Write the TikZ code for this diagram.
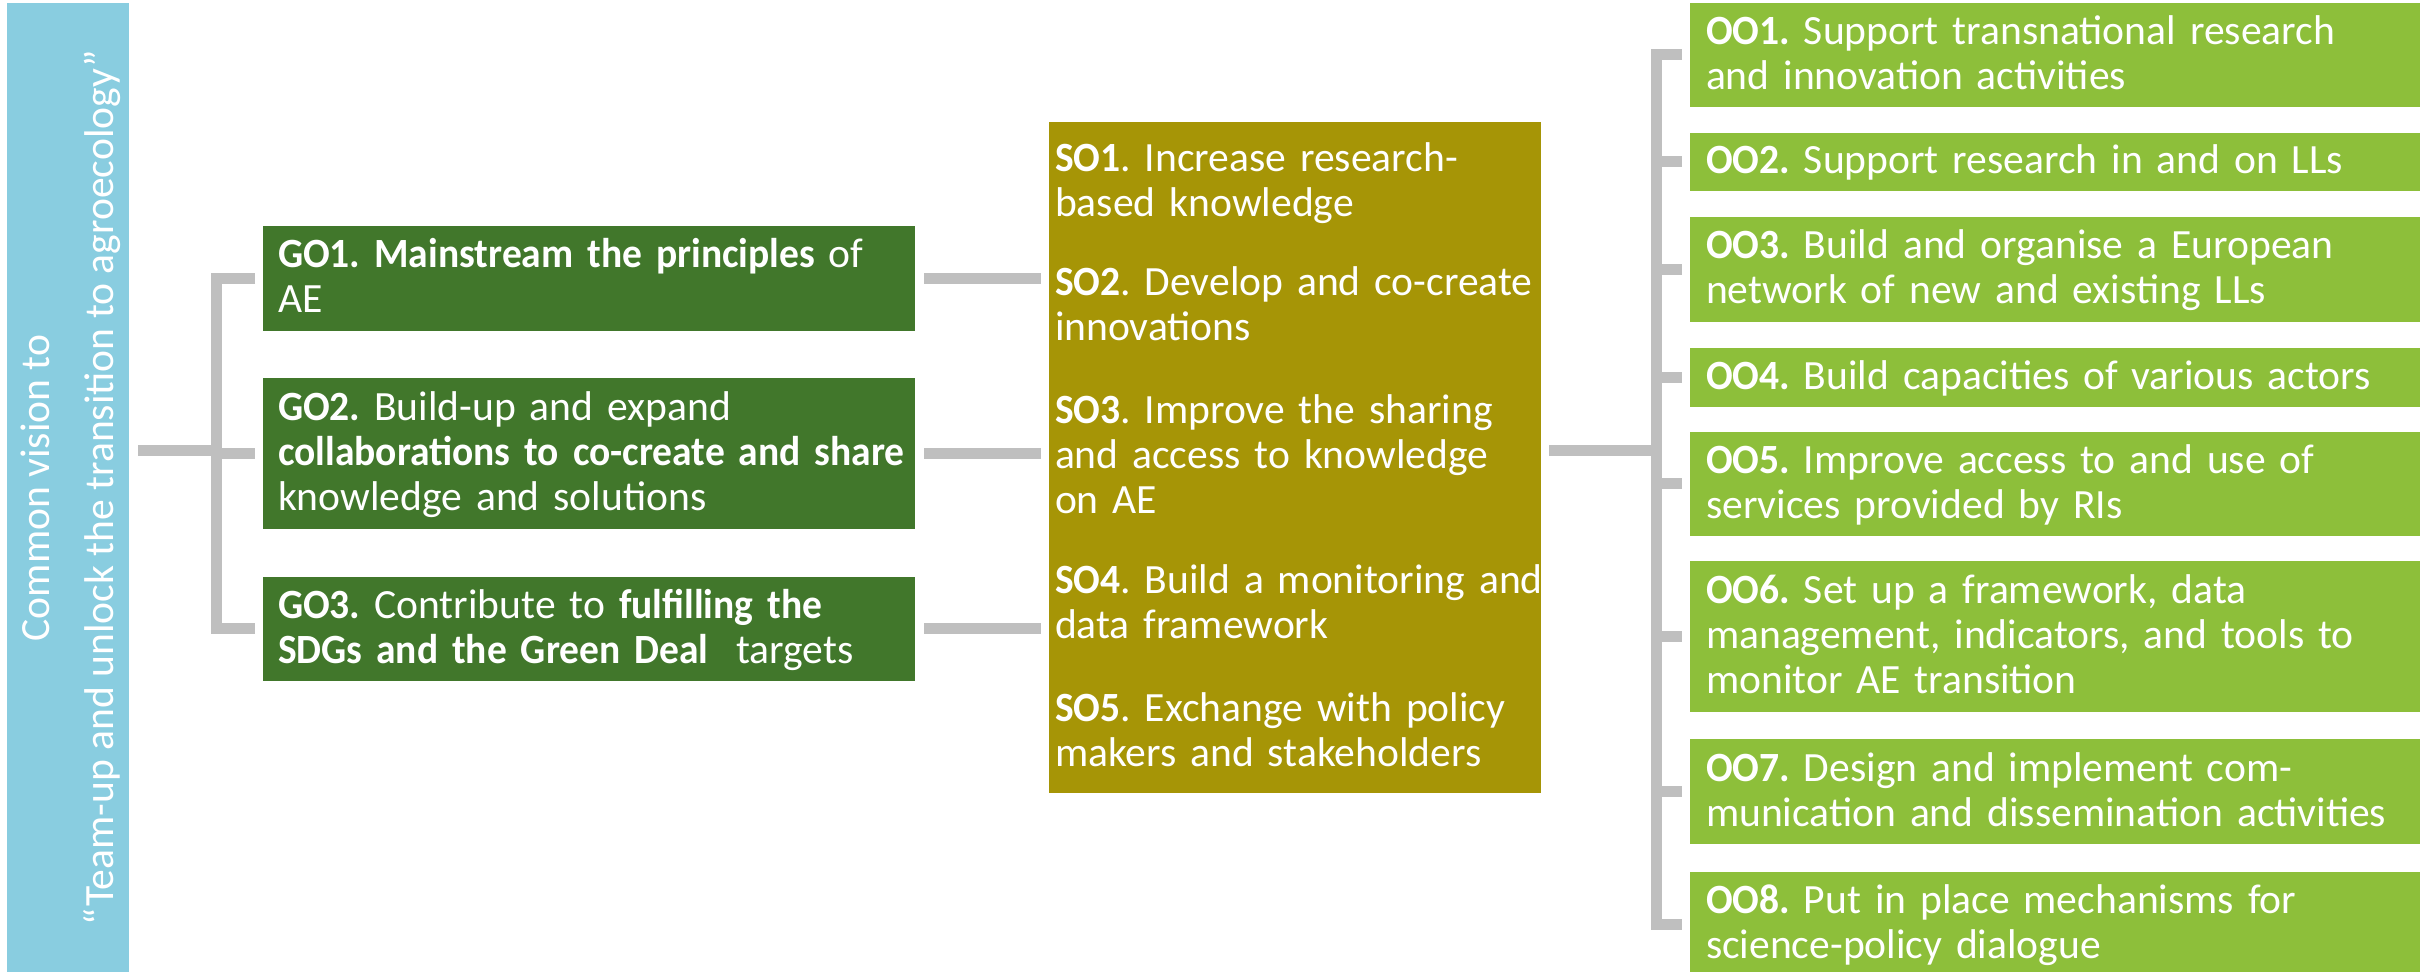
\documentclass[tikz,border=0pt]{standalone}
\usepackage{fontspec}
\setmainfont{Carlito}
\newfontfamily\medfont{Carlito}[FakeStretch=0.95]
\newcommand\semib[1]{{\medfont\bfseries #1}}
\frenchspacing
\definecolor{visblue}{RGB}{137,205,224}
\definecolor{gogreen}{RGB}{65,119,43}
\definecolor{soolive}{RGB}{166,149,6}
\definecolor{oogreen}{RGB}{141,191,58}
\definecolor{conngray}{RGB}{191,191,191}
\begin{document}
\begin{tikzpicture}[x=0.5pt,y=-0.5pt,
  box/.style={rectangle, inner sep=0pt, outer sep=0pt, anchor=north west},
  txtbase/.style={anchor=base west, inner sep=0pt, outer sep=0pt, text=white, align=left,
    font=\fontsize{20.8pt}{22.5pt}\selectfont\frenchspacing},
  gotxt/.style={txtbase, text width=345pt},
  sotxt/.style={txtbase, text width=270pt},
  ootxt/.style={txtbase, text width=370pt},
  vtxt/.style={rotate=90, anchor=base, inner sep=0pt, outer sep=0pt, text=white,
    font=\fontsize{20.8pt}{22.5pt}\selectfont},
  conn/.style={draw=conngray, line width=5.5pt, line cap=butt, line join=miter}]
\useasboundingbox (0,0) rectangle (2420,972);

% vision bar
\node[box, fill=visblue, minimum width=61pt, minimum height=486pt] (vis) at (7,3) {};
\node[vtxt] (vis1) at (49,488) {Common vision to};
\node[vtxt] (vis2) at (113,488) {“Team-up and unlock the transition to agroecology”};

% general objectives
\node[box, fill=gogreen, minimum width=326pt, minimum height=52.5pt] (go1) at (263,226) {};
\node[box, fill=gogreen, minimum width=326pt, minimum height=75.5pt] (go2) at (263,378) {};
\node[box, fill=gogreen, minimum width=326pt, minimum height=52pt] (go3) at (263,577) {};
\node[gotxt] (go1t) at (278,268) {\semib{GO1. Mainstream the principles} of\\AE};
\node[gotxt] (go2t) at (278,420.5) {\semib{GO2.} Build-up and expand\\\semib{collaborations to co-create and share}\\knowledge and solutions};
\node[gotxt] (go3t) at (278,618.5) {\semib{GO3.} Contribute to \semib{fulfilling the}\\\semib{SDGs and the Green Deal}\ \ targets};

% specific objectives
\node[box, fill=soolive, minimum width=246pt, minimum height=335.5pt] (so) at (1049,122) {};
\node[sotxt] (so1) at (1055,172) {\semib{SO1}. Increase research-\\based knowledge};
\node[sotxt] (so2) at (1055,296) {\semib{SO2}. Develop and co-create\\innovations};
\node[sotxt] (so3) at (1055,424) {\semib{SO3}. Improve the sharing\\and access to knowledge\\on AE};
\node[sotxt] (so4) at (1055,594) {\semib{SO4}. Build a monitoring and\\data framework};
\node[sotxt] (so5) at (1055,721) {\semib{SO5}. Exchange with policy\\makers and stakeholders};

% operational objectives
\node[box, fill=oogreen, minimum width=368pt, minimum height=52pt] (oo1) at (1690,3) {};
\node[box, fill=oogreen, minimum width=368pt, minimum height=29pt] (oo2) at (1690,133) {};
\node[box, fill=oogreen, minimum width=368pt, minimum height=52.5pt] (oo3) at (1690,217) {};
\node[box, fill=oogreen, minimum width=368pt, minimum height=29.5pt] (oo4) at (1690,348) {};
\node[box, fill=oogreen, minimum width=368pt, minimum height=52pt] (oo5) at (1690,432) {};
\node[box, fill=oogreen, minimum width=368pt, minimum height=75.5pt] (oo6) at (1690,561) {};
\node[box, fill=oogreen, minimum width=368pt, minimum height=52.5pt] (oo7) at (1690,739) {};
\node[box, fill=oogreen, minimum width=368pt, minimum height=52pt] (oo8) at (1690,872) {};
\node[ootxt] (oo1t) at (1706,44.5) {\semib{OO1.} Support transnational research\\and innovation activities};
\node[ootxt] (oo2t) at (1706,174) {\semib{OO2.} Support research in and on LLs};
\node[ootxt] (oo3t) at (1706,259) {\semib{OO3.} Build and organise a European\\network of new and existing LLs};
\node[ootxt] (oo4t) at (1706,389.5) {\semib{OO4.} Build capacities of various actors};
\node[ootxt] (oo5t) at (1706,473.5) {\semib{OO5.} Improve access to and use of\\services provided by RIs};
\node[ootxt] (oo6t) at (1706,603.5) {\semib{OO6.} Set up a framework, data\\management, indicators, and tools to\\monitor AE transition};
\node[ootxt] (oo7t) at (1706,781) {\semib{OO7.} Design and implement com-\\munication and dissemination activities};
\node[ootxt] (oo8t) at (1706,913) {\semib{OO8.} Put in place mechanisms for\\science-policy dialogue};

% connectors
\coordinate (lbx) at (216.5,451);
\coordinate (rbx) at (1656,451);
\draw[conn] ([xshift=4.5pt]vis.east |- lbx) -- (lbx);
\draw[conn] ([xshift=-4pt]go1.west) -| (lbx |- go3.west) -- ([xshift=-4pt]go3.west);
\draw[conn] (lbx |- go2.west) -- ([xshift=-4pt]go2.west);
\foreach \k in {1,2,3}
  \draw[conn] ([xshift=4.5pt]go\k.east) -- ([xshift=-4pt]so.west |- go\k.east);
\draw[conn] ([xshift=4pt]so.east |- rbx) -- (rbx);
\draw[conn] ([xshift=-4pt]oo1.west) -| (rbx |- oo8.west) -- ([xshift=-4pt]oo8.west);
\foreach \k in {2,...,7}
  \draw[conn] (rbx |- oo\k.west) -- ([xshift=-4pt]oo\k.west);
\end{tikzpicture}
\end{document}
